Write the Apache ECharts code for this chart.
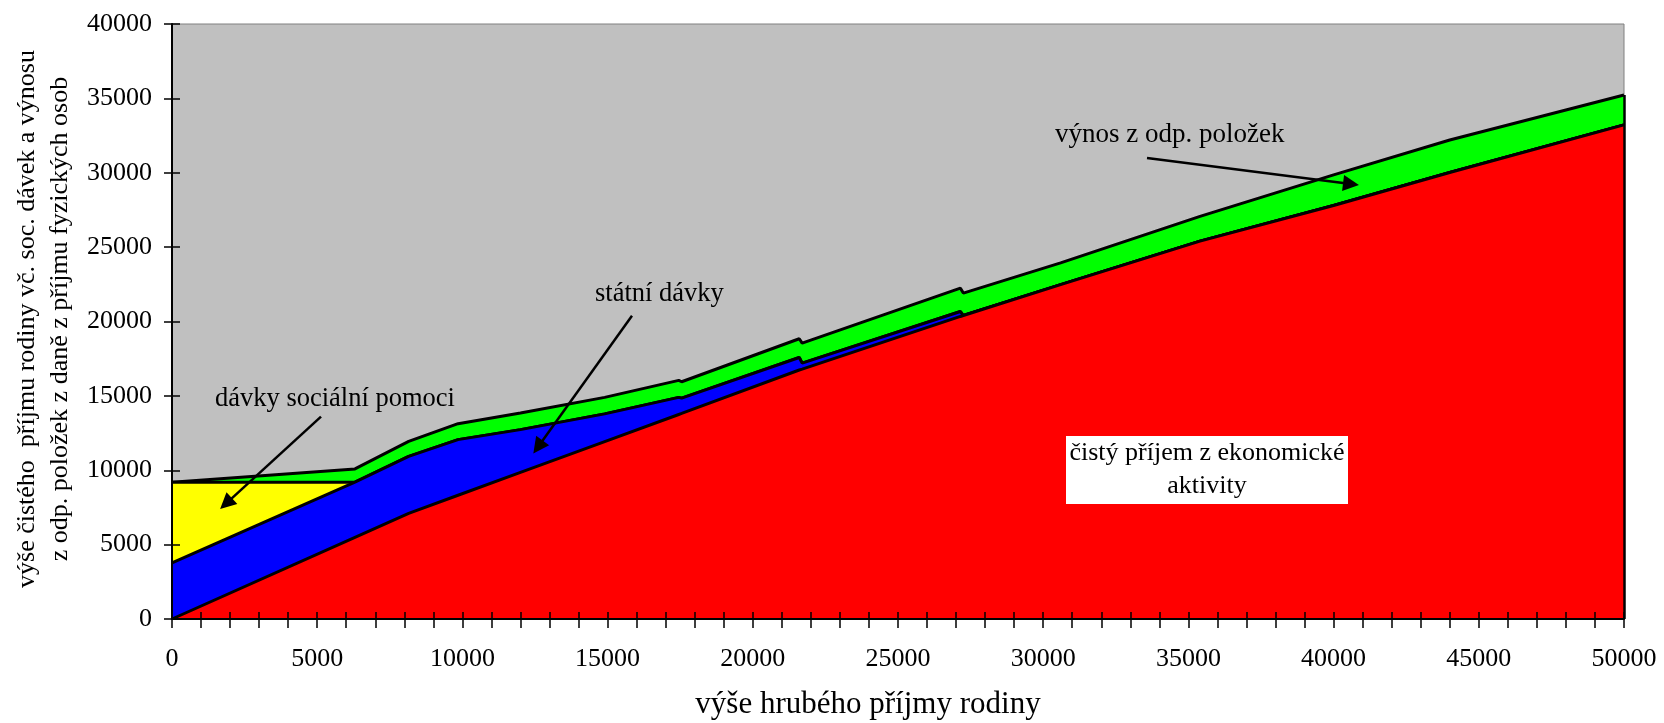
<!DOCTYPE html>
<html>
<head>
<meta charset="utf-8">
<title>Příjem rodiny</title>
<script src="https://cdn.jsdelivr.net/npm/echarts@6/dist/echarts.min.js"></script>
<style>
  html, body { margin: 0; padding: 0; background: #fff; }
  #chart { width: 1664px; height: 723px; }
</style>
</head>
<body>
<div id="chart"></div>
<script>
// Gross family income (x) at which the income components are given
const grossIncome = [0, 6300, 8150, 9850, 12000, 14900, 17450, 17550, 21600, 21700, 27150, 27250, 30600, 35400, 40000, 44000, 50000];
// Net income from economic activity
const netIncome = [0, 5490, 7100, 8320, 9860, 11930, 13750, 13820, 16740, 16800, 20340, 20400, 22480, 25400, 27800, 30020, 33220];
// State benefits
const stateBenefits = [3780, 3710, 3830, 3740, 2870, 1860, 1150, 1030, 840, 400, 330, 0, 0, 0, 0, 0, 0];
// Social assistance benefits
const socialAssistance = [5420, 0, 0, 0, 0, 0, 0, 0, 0, 0, 0, 0, 0, 0, 0, 0, 0];
// Yield from tax-deductible items
const deductionYield = [0, 890, 1010, 1070, 1120, 1110, 1140, 1100, 1260, 1350, 1570, 1510, 1460, 1670, 2060, 2180, 2005];

const xTicks = { min: 0, max: 50000, interval: 5000 };
const yTicks = { min: 0, max: 40000, interval: 5000 };

const FONT = '"Liberation Serif", "Times New Roman", serif';

const chart = echarts.init(document.getElementById('chart'), null, { renderer: 'canvas' });

// Running totals of the layers, bottom to top
function addLayers(a, b) { return a.map((v, i) => v + b[i]); }
const topNet = netIncome;
const topState = addLayers(topNet, stateBenefits);
const topSocial = addLayers(topState, socialAssistance);
const topTotal = addLayers(topSocial, deductionYield);

function pairs(values) {
  return grossIncome.map((x, i) => [x, values[i]]);
}

// Each layer is filled down to the axis; lower layers are painted over higher ones
function areaSeries(name, values, color, z) {
  return {
    name: name,
    type: 'line',
    data: pairs(values),
    symbol: 'none',
    silent: true,
    z: z,
    lineStyle: { color: '#000', width: 3 },
    areaStyle: { color: color, opacity: 1 },
    animation: false
  };
}

const last = grossIncome.length - 1;

const labelStyle = { fontFamily: FONT, fontSize: 26, color: '#000' };

const option = {
  animation: false,
  grid: {
    left: 172, right: 40, top: 24, bottom: 104,
    show: true, backgroundColor: '#C0C0C0', borderColor: '#808080', borderWidth: 1
  },
  xAxis: [
    {
      type: 'value', min: xTicks.min, max: xTicks.max, interval: xTicks.interval,
      position: 'bottom',
      axisLine: { onZero: false, lineStyle: { color: '#000', width: 2 } },
      axisTick: { length: 9, lineStyle: { color: '#000', width: 1.5 } },
      minorTick: { show: true, splitNumber: 5, length: 9, lineStyle: { color: '#000', width: 1.5 } },
      splitLine: { show: false },
      axisLabel: Object.assign({ margin: 27, formatter: v => String(v) }, labelStyle),
      z: 10
    },
    {
      type: 'value', min: xTicks.min, max: xTicks.max, interval: xTicks.interval,
      position: 'bottom',
      axisLine: { show: false, onZero: false },
      axisTick: { inside: true, length: 7, lineStyle: { color: '#000', width: 1.5 } },
      minorTick: { show: true, splitNumber: 5, length: 7, lineStyle: { color: '#000', width: 1.5 } },
      splitLine: { show: false },
      axisLabel: { show: false },
      z: 10
    }
  ],
  yAxis: [
    {
      type: 'value', min: yTicks.min, max: yTicks.max, interval: yTicks.interval,
      position: 'left',
      axisLine: { show: true, onZero: false, lineStyle: { color: '#000', width: 2 } },
      axisTick: { show: true, length: 8, lineStyle: { color: '#000', width: 1.5 } },
      splitLine: { show: false },
      axisLabel: Object.assign({ margin: 20, formatter: v => String(v) }, labelStyle),
      z: 10
    },
    {
      type: 'value', min: yTicks.min, max: yTicks.max, interval: yTicks.interval,
      position: 'left',
      axisLine: { show: false, onZero: false },
      axisTick: { show: true, inside: true, length: 8, lineStyle: { color: '#000', width: 1.5 } },
      splitLine: { show: false },
      axisLabel: { show: false },
      z: 10
    }
  ],
  series: [
    areaSeries('výnos z odp. položek', topTotal, '#00FF00', 2),
    areaSeries('dávky sociální pomoci', topSocial, '#FFFF00', 3),
    areaSeries('státní dávky', topState, '#0000FF', 4),
    areaSeries('čistý příjem z ekonomické aktivity', topNet, '#FF0000', 5),
    {
      // Pointer arrows for the annotations and the right edge of the filled area
      type: 'line',
      data: [],
      silent: true,
      z: 9,
      animation: false,
      markLine: {
        silent: true,
        animation: false,
        z: 20,
        symbol: ['none', 'triangle'],
        symbolSize: 16,
        label: { show: false },
        lineStyle: { color: '#000', width: 2.5, type: 'solid' },
        data: [
          [{ coord: [5131, 13600] }, { coord: [1860, 7757] }],
          [{ coord: [15840, 20383] }, { coord: [12603, 11565] }],
          [{ coord: [33574, 30994] }, { coord: [40599, 29241] }],
          [{ coord: [grossIncome[last], 0], symbol: 'none' }, { coord: [grossIncome[last], topTotal[last]], symbol: 'none' }]
        ]
      }
    }
  ],
  graphic: [
    {
      type: 'text', x: 44, y: 319, rotation: Math.PI / 2, z: 20,
      style: {
        text: 'výše čistého  příjmu rodiny vč. soc. dávek a výnosu\nz odp. položek z daně z příjmu fyzických osob',
        font: '26px ' + FONT, fill: '#000', align: 'center', verticalAlign: 'middle', lineHeight: 33
      }
    },
    {
      type: 'text', x: 868, y: 705, z: 20,
      style: { text: 'výše hrubého příjmy rodiny', font: '31px ' + FONT, fill: '#000', align: 'center', verticalAlign: 'middle' }
    },
    {
      type: 'text', x: 215, y: 399, z: 20,
      style: { text: 'dávky sociální pomoci', font: '26.5px ' + FONT, fill: '#000', align: 'left', verticalAlign: 'middle' }
    },
    {
      type: 'text', x: 595, y: 294, z: 20,
      style: { text: 'státní dávky', font: '26.5px ' + FONT, fill: '#000', align: 'left', verticalAlign: 'middle' }
    },
    {
      type: 'text', x: 1055, y: 135, z: 20,
      style: { text: 'výnos z odp. položek', font: '27px ' + FONT, fill: '#000', align: 'left', verticalAlign: 'middle' }
    },
    {
      type: 'rect', z: 20,
      shape: { x: 1066, y: 436, width: 282, height: 68 },
      style: { fill: '#FFFFFF' }
    },
    {
      type: 'text', x: 1207, y: 470, z: 21,
      style: {
        text: 'čistý příjem z ekonomické\naktivity',
        font: '26px ' + FONT, fill: '#000', align: 'center', verticalAlign: 'middle', lineHeight: 33
      }
    }
  ]
};

chart.setOption(option);
</script>
</body>
</html>
